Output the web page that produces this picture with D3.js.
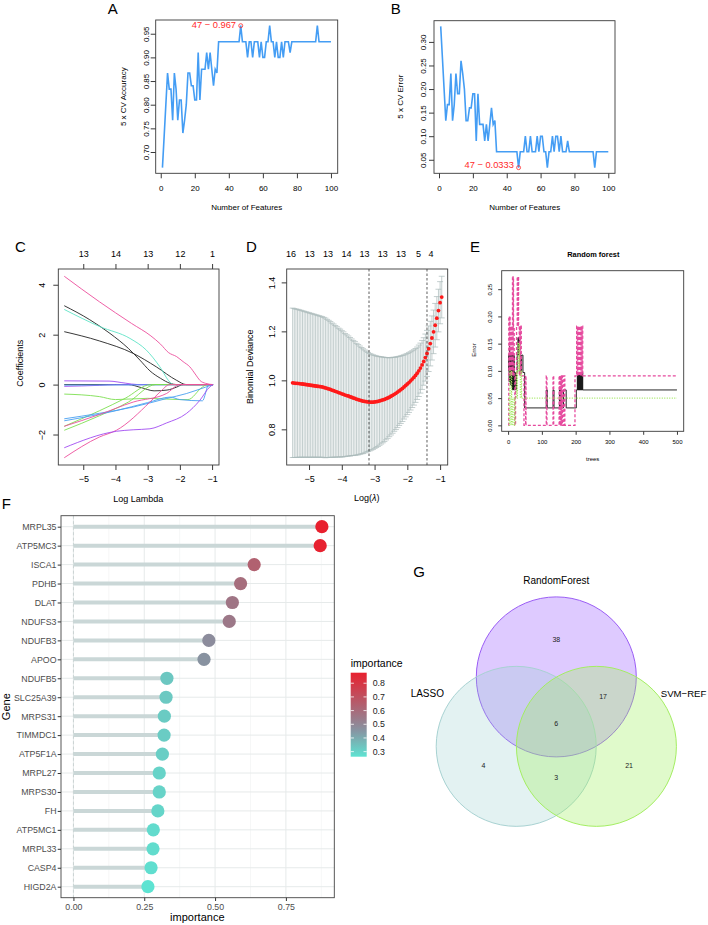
<!DOCTYPE html>
<html>
<head>
<meta charset="utf-8">
<title>Feature selection panels</title>
<script src="https://cdn.jsdelivr.net/npm/d3@7"></script>
<style>
  body { margin: 0; background: #fff; }
  svg { display: block; }
</style>
</head>
<body>
<script>
// ---------------- data ----------------
var nFeatures = d3.range(1, 101);
var cvAccuracy = [
  0.667,0.733,0.800,0.867,0.833,0.833,0.767,0.867,0.833,0.767,
  0.810,0.810,0.740,0.767,0.800,0.867,0.867,0.840,0.840,0.810,
  0.810,0.910,0.810,0.875,0.875,0.875,0.910,0.875,0.910,0.875,
  0.840,0.875,0.867,0.933,0.933,0.933,0.933,0.933,0.933,0.933,
  0.933,0.933,0.933,0.933,0.933,0.933,0.967,0.933,0.933,0.933,
  0.900,0.933,0.933,0.900,0.933,0.933,0.933,0.900,0.933,0.900,
  0.900,0.933,0.933,0.967,0.933,0.933,0.900,0.933,0.900,0.900,
  0.933,0.900,0.933,0.933,0.933,0.910,0.933,0.933,0.933,0.933,
  0.933,0.933,0.933,0.933,0.933,0.933,0.933,0.933,0.933,0.933,
  0.933,0.967,0.933,0.933,0.933,0.933,0.933,0.933,0.933,0.933
];
var cvError = [
  0.333,0.267,0.200,0.133,0.167,0.167,0.233,0.133,0.167,0.233,
  0.190,0.190,0.260,0.233,0.200,0.133,0.133,0.160,0.160,0.190,
  0.190,0.090,0.190,0.125,0.125,0.125,0.090,0.125,0.090,0.125,
  0.160,0.125,0.133,0.067,0.067,0.067,0.067,0.067,0.067,0.067,
  0.067,0.067,0.067,0.067,0.067,0.067,0.0333,0.067,0.067,0.067,
  0.100,0.067,0.067,0.100,0.067,0.067,0.067,0.100,0.067,0.100,
  0.100,0.067,0.067,0.0333,0.067,0.067,0.100,0.067,0.100,0.100,
  0.067,0.100,0.067,0.067,0.067,0.090,0.067,0.067,0.067,0.067,
  0.067,0.067,0.067,0.067,0.067,0.067,0.067,0.067,0.067,0.067,
  0.067,0.0333,0.067,0.067,0.067,0.067,0.067,0.067,0.067,0.067
];

// LASSO coefficient paths: [log lambda, coefficient]
var coefColors = ['#ec4e9c','#222222','#222222','#5fe3c6','#222222','#a24cf2','#a24cf2','#4aa0f0',
                  '#7ddf50','#7ddf50','#7ddf50','#4aa0f0','#4aa0f0','#ec4e9c','#ec4e9c','#a24cf2'];
var coefPaths = [
  [[-5.59,4.34],[-4.5,3.32],[-3.5,2.45],[-2.9,1.95],[-2.6,1.62],[-2.35,1.28],[-2.1,1.12],[-1.9,0.92],[-1.69,0.71],[-1.5,0.38],[-1.38,0.17],[-1.2,0.05],[-0.97,0]],
  [[-5.59,3.16],[-4.8,2.6],[-4.17,2.05],[-3.6,1.45],[-3.24,0.98],[-2.93,0.55],[-2.6,0.25],[-2.3,0.05],[-2.1,0],[-0.97,0]],
  [[-5.59,2.12],[-4.5,1.75],[-3.45,1.25],[-2.73,0.71],[-2.1,0.17],[-1.8,0],[-0.97,0]],
  [[-5.59,3.01],[-4.48,2.32],[-3.55,1.85],[-3.04,1.38],[-2.62,0.71],[-2.31,0.1],[-2.2,0],[-0.97,0]],
  [[-5.59,0],[-3.6,0],[-3.2,-0.12],[-2.8,-0.25],[-2.4,-0.22],[-2.1,-0.1],[-1.9,0],[-0.97,0]],
  [[-5.59,0.15],[-4.2,0.14],[-3.7,0.06],[-3.3,0],[-0.97,0]],
  [[-5.59,-0.07],[-4.5,-0.03],[-4.0,0],[-0.97,0]],
  [[-5.59,-0.02],[-3.0,-0.01],[-0.97,0]],
  [[-5.59,-0.38],[-4.5,-0.48],[-4.0,-0.6],[-3.0,-0.55],[-2.0,-0.6],[-1.75,-0.6],[-1.3,-0.1],[-1.15,0],[-0.97,0]],
  [[-5.59,-1.67],[-4.5,-1.05],[-3.7,-0.55],[-2.9,0],[-0.97,0]],
  [[-5.59,-1.83],[-4.5,-1.25],[-3.6,-0.7],[-2.75,0],[-0.97,0]],
  [[-5.59,-1.37],[-4.5,-1.15],[-3.45,-0.9],[-2.42,-0.56],[-1.8,-0.36],[-1.2,-0.1],[-0.97,0]],
  [[-5.59,-1.45],[-4.0,-1.05],[-3.0,-0.72],[-2.3,-0.5],[-2.0,-0.6],[-1.3,-0.65],[-1.1,0],[-0.97,0]],
  [[-5.59,-2.93],[-4.5,-2.1],[-3.97,-1.83],[-2.93,-0.7],[-2.62,-0.3],[-2.31,0],[-0.97,0]],
  [[-5.59,-1.67],[-4.5,-1.2],[-3.45,-0.7],[-2.42,-0.36],[-2.0,0],[-0.97,0]],
  [[-5.59,-2.53],[-3.97,-1.87],[-3.45,-1.81],[-2.93,-1.77],[-2.42,-1.54],[-1.8,-1.16],[-1.38,-0.63],[-1.07,-0.09],[-0.97,0]]
];
var coefTopAt = [-5, -4, -3, -2, -1];
var coefTopDf = [13, 14, 13, 12, 1];

// cross-validated binomial deviance
var lamD = [
  -5.50,-5.45,-5.40,-5.35,-5.30,-5.25,-5.20,-5.15,-5.10,-5.05,
  -5.00,-4.95,-4.90,-4.85,-4.80,-4.75,-4.70,-4.65,-4.60,-4.55,
  -4.50,-4.45,-4.40,-4.35,-4.30,-4.25,-4.20,-4.15,-4.10,-4.05,
  -4.00,-3.95,-3.90,-3.85,-3.80,-3.75,-3.70,-3.65,-3.60,-3.55,
  -3.50,-3.45,-3.40,-3.35,-3.30,-3.25,-3.20,-3.15,-3.10,-3.05,
  -3.00,-2.95,-2.90,-2.85,-2.80,-2.75,-2.70,-2.65,-2.60,-2.55,
  -2.50,-2.45,-2.40,-2.35,-2.30,-2.25,-2.20,-2.15,-2.10,-2.05,
  -2.00,-1.95,-1.90,-1.85,-1.80,-1.75,-1.70,-1.65,-1.60,-1.55,
  -1.50,-1.45,-1.40,-1.35,-1.30,-1.25,-1.20,-1.15,-1.10,-1.05,
  -1.00,-0.95
];
var devMean = [
  0.990,0.989,0.988,0.988,0.987,0.986,0.985,0.984,0.983,0.982,
  0.981,0.980,0.979,0.978,0.977,0.976,0.975,0.974,0.973,0.971,
  0.969,0.967,0.965,0.963,0.960,0.958,0.955,0.953,0.950,0.948,
  0.945,0.943,0.940,0.938,0.936,0.933,0.931,0.928,0.926,0.923,
  0.921,0.919,0.917,0.915,0.914,0.913,0.912,0.911,0.911,0.911,
  0.912,0.913,0.914,0.916,0.918,0.920,0.922,0.925,0.928,0.931,
  0.935,0.939,0.943,0.947,0.952,0.957,0.962,0.967,0.973,0.979,
  0.985,0.991,0.998,1.005,1.012,1.020,1.029,1.039,1.050,1.063,
  1.077,1.093,1.110,1.129,1.150,1.173,1.198,1.225,1.254,1.285,
  1.317,1.340
];
var devSE = [
  0.305,0.304,0.303,0.302,0.301,0.300,0.299,0.298,0.297,0.296,
  0.295,0.294,0.293,0.292,0.291,0.290,0.289,0.288,0.287,0.286,
  0.285,0.282,0.280,0.277,0.274,0.272,0.269,0.266,0.263,0.261,
  0.258,0.255,0.251,0.248,0.245,0.242,0.238,0.235,0.232,0.228,
  0.225,0.221,0.217,0.214,0.210,0.206,0.202,0.199,0.196,0.193,
  0.190,0.187,0.184,0.181,0.178,0.175,0.172,0.168,0.165,0.161,
  0.158,0.155,0.151,0.148,0.145,0.141,0.138,0.135,0.131,0.128,
  0.125,0.122,0.119,0.116,0.113,0.110,0.107,0.105,0.102,0.100,
  0.097,0.096,0.094,0.093,0.091,0.090,0.089,0.089,0.088,0.087,
  0.086,0.085
];
var devTopAt = [-5.55,-4.98,-4.42,-3.86,-3.31,-2.75,-2.19,-1.66,-1.28];
var devTopDf = [16, 13, 13, 14, 13, 13, 13, 5, 4];
var lambdaMin = -3.17, lambda1se = -1.40;

// random forest error by number of trees (step change points: [tree, error])
var rfOOB = [[1,0.100],[2,0.130],[3,0.080],[4,0.145],[5,0.090],[6,0.120],[7,0.075],[8,0.130],[9,0.080],[10,0.110],
  [11,0.070],[12,0.129],[13,0.065],[14,0.097],[15,0.129],[16,0.065],[17,0.129],[18,0.097],[19,0.065],[21,0.097],
  [23,0.065],[25,0.097],[27,0.129],[29,0.161],[31,0.129],[32,0.161],[34,0.129],[35,0.097],[36,0.129],[38,0.097],
  [40,0.129],[44,0.097],[49,0.032],[113,0.065],[116,0.032],[133,0.065],[136,0.032],[152,0.065],[154,0.032],
  [156,0.065],[159,0.032],[164,0.065],[172,0.032],[202,0.065],[205,0.097],[206,0.065],[208,0.097],[209,0.065],
  [211,0.097],[212,0.065],[214,0.097],[215,0.065],[217,0.097],[218,0.065],[220,0.097],[221,0.065],[500,0.065]];
var rfClass1 = [[1,0],[2,0.2],[4,0.1],[5,0.2],[6,0.091],[8,0.182],[9,0.091],[11,0.182],[12,0.091],[13,0.273],
  [14,0.091],[15,0.273],[16,0.182],[18,0.091],[20,0],[22,0.091],[25,0.182],[27,0.273],[28,0.182],[30,0.273],
  [31,0.182],[33,0.091],[34,0.182],[36,0.091],[37,0.182],[39,0.091],[47,0],[52,0.091],[53,0],[113,0.091],
  [115,0],[133,0.091],[135,0],[151,0.091],[153,0],[155,0.091],[157,0],[159,0.091],[161,0],[165,0.091],[168,0],
  [198,0.091],[203,0.182],[205,0.091],[207,0.182],[209,0.091],[211,0.182],[213,0.091],[215,0.182],[217,0.091],
  [219,0.182],[221,0.091],[500,0.091]];
var rfClass0 = [[1,0.05],[3,0],[5,0.1],[6,0.05],[8,0],[10,0.1],[11,0.05],[13,0],[15,0.05],[19,0],[21,0.05],
  [24,0.1],[26,0.05],[28,0.1],[29,0.15],[31,0.1],[33,0.15],[34,0.1],[36,0.05],[38,0.1],[40,0.05],[500,0.05]];

// random forest gene importance
var genes = ['MRPL35','ATP5MC3','ISCA1','PDHB','DLAT','NDUFS3','NDUFB3','APOO','NDUFB5','SLC25A39',
             'MRPS31','TIMMDC1','ATP5F1A','MRPL27','MRPS30','FH','ATP5MC1','MRPL33','CASP4','HIGD2A'];
var importance = [0.877,0.871,0.638,0.590,0.561,0.550,0.478,0.461,0.330,0.327,
                  0.321,0.320,0.314,0.303,0.303,0.298,0.282,0.281,0.274,0.263];
var impTicks = [0, 0.25, 0.5, 0.75];
var impLegendTicks = [0.3, 0.4, 0.5, 0.6, 0.7, 0.8];

// venn
var vennSets = ['RandomForest', 'LASSO', 'SVM\u2212REF'];
var vennRegions = ['RF', 'LASSO', 'SVM', 'RF&SVM', 'LASSO&SVM', 'RF&LASSO', 'ALL'];
var vennCounts = [38, 4, 21, 17, 3, 0, 6];

// ---------------- helpers ----------------
var FONT = '"Liberation Sans", Arial, Helvetica, sans-serif';
var svg = d3.select('body').append('svg')
  .attr('width', 708).attr('height', 925)
  .attr('font-family', FONT);
svg.append('rect').attr('width', 708).attr('height', 925).attr('fill', '#fff');

function txt(g, s, x, y, fs, o) {
  o = o || {};
  var t = g.append('text')
    .attr('x', x).attr('y', y)
    .attr('font-size', fs)
    .attr('dy', o.dy == null ? '0.35em' : o.dy)
    .attr('text-anchor', o.anchor || 'middle')
    .attr('fill', o.fill || '#000')
    .text(s);
  if (o.rot) t.attr('transform', 'rotate(' + o.rot + ',' + x + ',' + y + ')');
  if (o.weight) t.attr('font-weight', o.weight);
  return t;
}

// R extends axis ranges by 4% on both sides
function rExt(e) {
  var r = e[1] - e[0];
  return [e[0] - 0.04 * r, e[1] + 0.04 * r];
}

function rBox(g, x, y) {
  g.append('rect')
    .attr('x', x.range()[0]).attr('y', y.range()[1])
    .attr('width', x.range()[1] - x.range()[0])
    .attr('height', y.range()[0] - y.range()[1])
    .attr('fill', 'none').attr('stroke', '#3a3a3a').attr('stroke-width', 0.9);
}

function rAxisBottom(g, x, y, ticks, fmt, tl, off, fs) {
  var ax = g.append('g')
    .attr('transform', 'translate(0,' + y.range()[0] + ')')
    .call(d3.axisBottom(x).tickValues(ticks).tickFormat(fmt).tickSize(tl));
  ax.select('.domain').remove();
  ax.attr('font-family', FONT).attr('font-size', fs).attr('color', '#3a3a3a');
  ax.selectAll('text').attr('y', off).attr('dy', '0.35em').attr('fill', '#000');
  return ax;
}

function rAxisTop(g, x, y, ticks, labels, tl, off, fs) {
  var ax = g.append('g')
    .attr('transform', 'translate(0,' + y.range()[1] + ')')
    .call(d3.axisTop(x).tickValues(ticks).tickFormat(function (d, i) { return labels[i]; }).tickSize(tl));
  ax.select('.domain').remove();
  ax.attr('font-family', FONT).attr('font-size', fs).attr('color', '#3a3a3a');
  ax.selectAll('text').attr('y', -off).attr('dy', '0.35em').attr('fill', '#000');
  return ax;
}

function rAxisLeft(g, x, y, ticks, fmt, tl, off, fs) {
  var ax = g.append('g')
    .attr('transform', 'translate(' + x.range()[0] + ',0)')
    .call(d3.axisLeft(y).tickValues(ticks).tickFormat(fmt).tickSize(tl));
  ax.select('.domain').remove();
  ax.attr('font-family', FONT).attr('font-size', fs).attr('color', '#3a3a3a');
  ax.selectAll('text')
    .attr('transform', 'rotate(-90)')
    .attr('x', 0).attr('y', -off).attr('dy', '0.35em')
    .attr('text-anchor', 'middle').attr('fill', '#000');
  return ax;
}

function letter(s, x, y) {
  txt(svg, s, x, y, 15, { anchor: 'start', dy: 0 });
}

// ---------------- A: SVM-RFE accuracy ----------------
var gA = svg.append('g');
var xA = d3.scaleLinear().domain(rExt(d3.extent(nFeatures))).range([155.7, 337.7]);
var yA = d3.scaleLinear().domain(rExt(d3.extent(cvAccuracy))).range([173.3, 20]);
rBox(gA, xA, yA);
rAxisBottom(gA, xA, yA, [0, 20, 40, 60, 80, 100], d3.format('d'), 5, 14.7, 8);
rAxisLeft(gA, xA, yA, [0.70, 0.75, 0.80, 0.85, 0.90, 0.95], d3.format('.2f'), 5, 9.5, 8);
gA.append('path').datum(cvAccuracy)
  .attr('d', d3.line().x(function (d, i) { return xA(nFeatures[i]); }).y(function (d) { return yA(d); }))
  .attr('fill', 'none').attr('stroke', '#449df4').attr('stroke-width', 1.6);
var bestA = d3.maxIndex(cvAccuracy);
gA.append('circle').attr('cx', xA(nFeatures[bestA])).attr('cy', yA(cvAccuracy[bestA])).attr('r', 2)
  .attr('fill', 'none').attr('stroke', '#ff2a2a').attr('stroke-width', 0.8);
txt(gA, nFeatures[bestA] + ' \u2212 ' + d3.format('.3~g')(cvAccuracy[bestA]),
  xA(nFeatures[bestA]) - 4.7, yA(cvAccuracy[bestA]), 9.3, { anchor: 'end', fill: '#ff2a2a', dy: '0.3em' });
txt(gA, 'Number of Features', 246.7, 207, 8);
txt(gA, '5 x CV Accuracy', 122.7, 96.7, 8, { rot: -90 });
letter('A', 107.7, 13.5);

// ---------------- B: SVM-RFE error ----------------
var gB = svg.append('g');
var xB = d3.scaleLinear().domain(rExt(d3.extent(nFeatures))).range([434, 615]);
var yB = d3.scaleLinear().domain(rExt(d3.extent(cvError))).range([173.3, 20.7]);
rBox(gB, xB, yB);
rAxisBottom(gB, xB, yB, [0, 20, 40, 60, 80, 100], d3.format('d'), 5, 14.7, 8);
rAxisLeft(gB, xB, yB, [0.05, 0.10, 0.15, 0.20, 0.25, 0.30], d3.format('.2f'), 5, 11, 8);
gB.append('path').datum(cvError)
  .attr('d', d3.line().x(function (d, i) { return xB(nFeatures[i]); }).y(function (d) { return yB(d); }))
  .attr('fill', 'none').attr('stroke', '#449df4').attr('stroke-width', 1.6);
var bestB = d3.minIndex(cvError);
gB.append('circle').attr('cx', xB(nFeatures[bestB])).attr('cy', yB(cvError[bestB])).attr('r', 2)
  .attr('fill', 'none').attr('stroke', '#ff2a2a').attr('stroke-width', 0.8);
txt(gB, nFeatures[bestB] + ' \u2212 ' + d3.format('.3~g')(cvError[bestB]),
  xB(nFeatures[bestB]) - 4.7, yB(cvError[bestB]) - 2, 9.3, { anchor: 'end', fill: '#ff2a2a', dy: '0.3em' });
txt(gB, 'Number of Features', 524.7, 207, 8);
txt(gB, '5 x CV Error', 400, 96.7, 8, { rot: -90 });
letter('B', 390.7, 13.5);

// ---------------- C: LASSO coefficient paths ----------------
var gC = svg.append('g');
var allLam = [], allCoef = [];
coefPaths.forEach(function (p) { p.forEach(function (d) { allLam.push(d[0]); allCoef.push(d[1]); }); });
var xC = d3.scaleLinear().domain(rExt(d3.extent(allLam))).range([58.3, 219]);
var yC = d3.scaleLinear().domain(rExt(d3.extent(allCoef))).range([465, 269]);
var lineC = d3.line().x(function (d) { return xC(d[0]); }).y(function (d) { return yC(d[1]); })
  .curve(d3.curveMonotoneX);
gC.append('g').selectAll('path').data(coefPaths).enter().append('path')
  .attr('d', lineC)
  .attr('fill', 'none')
  .attr('stroke', function (d, i) { return coefColors[i]; })
  .attr('stroke-width', 0.9);
rBox(gC, xC, yC);
rAxisBottom(gC, xC, yC, [-5, -4, -3, -2, -1], d3.format('d'), 5, 14.3, 9);
rAxisTop(gC, xC, yC, coefTopAt, coefTopDf, 5, 14.7, 9);
rAxisLeft(gC, xC, yC, [-2, 0, 2, 4], d3.format('d'), 5, 16.6, 9);
txt(gC, 'Log Lambda', 138.3, 499, 9);
txt(gC, 'Coefficients', 20, 363.3, 9, { rot: -90 });
letter('C', 15, 251.7);

// ---------------- D: cross-validation deviance ----------------
var gD = svg.append('g');
var devLo = devMean.map(function (m, i) { return m - devSE[i]; });
var devHi = devMean.map(function (m, i) { return m + devSE[i]; });
var xD = d3.scaleLinear().domain(rExt(d3.extent(lamD))).range([286.7, 447.7]);
var yD = d3.scaleLinear().domain(rExt([d3.min(devLo), d3.max(devHi)])).range([465, 269]);
var barW = (d3.max(lamD) - d3.min(lamD)) * 0.02;
var eb = gD.append('g').attr('stroke', '#a9b9b9').attr('stroke-width', 0.7);
lamD.forEach(function (l, i) {
  eb.append('line').attr('x1', xD(l)).attr('x2', xD(l)).attr('y1', yD(devLo[i])).attr('y2', yD(devHi[i]));
  eb.append('line').attr('x1', xD(l - barW)).attr('x2', xD(l + barW)).attr('y1', yD(devHi[i])).attr('y2', yD(devHi[i]));
  eb.append('line').attr('x1', xD(l - barW)).attr('x2', xD(l + barW)).attr('y1', yD(devLo[i])).attr('y2', yD(devLo[i]));
});
gD.selectAll('circle.dev').data(devMean).enter().append('circle')
  .attr('cx', function (d, i) { return xD(lamD[i]); })
  .attr('cy', function (d) { return yD(d); })
  .attr('r', 1.9).attr('fill', '#ff1a1a');
[lambdaMin, lambda1se].forEach(function (v) {
  gD.append('line').attr('x1', xD(v)).attr('x2', xD(v)).attr('y1', yD.range()[0]).attr('y2', yD.range()[1])
    .attr('stroke', '#333').attr('stroke-width', 0.8).attr('stroke-dasharray', '2.5,2');
});
rBox(gD, xD, yD);
rAxisBottom(gD, xD, yD, [-5, -4, -3, -2, -1], d3.format('d'), 5, 14.3, 9);
var topD = gD.append('g');
devTopAt.forEach(function (v, i) { txt(topD, devTopDf[i], xD(v), 254.3, 9); });
rAxisLeft(gD, xD, yD, [0.8, 1.0, 1.2, 1.4], d3.format('.1f'), 5, 15, 9);
var ll = gD.append('text').attr('x', 366.7).attr('y', 498).attr('dy', '0.35em')
  .attr('text-anchor', 'middle').attr('font-size', 9);
ll.append('tspan').text('Log(');
ll.append('tspan').attr('font-style', 'italic').text('\u03bb');
ll.append('tspan').text(')');
txt(gD, 'Binomial Deviance', 250, 366.7, 9, { rot: -90 });
letter('D', 246, 251.7);

// ---------------- E: random forest error ----------------
var gE = svg.append('g');
var xE = d3.scaleLinear().domain(rExt([1, 500])).range([501.7, 683.7]);
var yE = d3.scaleLinear().domain(rExt([0, d3.max(rfClass1, function (d) { return d[1]; })])).range([431.3, 270.7]);
var lineE = d3.line().x(function (d) { return xE(d[0]); }).y(function (d) { return yE(d[1]); })
  .curve(d3.curveStepAfter);
gE.append('path').datum(rfOOB).attr('d', lineE).attr('fill', 'none')
  .attr('stroke', '#111').attr('stroke-width', 0.9);
gE.append('path').datum(rfClass1).attr('d', lineE).attr('fill', 'none')
  .attr('stroke', '#e64a9e').attr('stroke-width', 1.3).attr('stroke-dasharray', '3,2');
gE.append('path').datum(rfClass0).attr('d', lineE).attr('fill', 'none')
  .attr('stroke', '#9fe85a').attr('stroke-width', 1.1).attr('stroke-dasharray', '1,1.5');
rBox(gE, xE, yE);
rAxisBottom(gE, xE, yE, [0, 100, 200, 300, 400, 500], d3.format('d'), 3.5, 11, 6);
rAxisLeft(gE, xE, yE, [0, 0.05, 0.10, 0.15, 0.20, 0.25], d3.format('.2f'), 3.5, 11.7, 6);
txt(gE, 'Random forest', 593.3, 254.3, 7.4, { weight: 'bold' });
txt(gE, 'trees', 592.7, 459, 6);
txt(gE, 'Error', 474, 350, 6, { rot: -90 });
letter('E', 470, 251.7);

// ---------------- F: lollipop importance ----------------
var gF = svg.append('g');
var impMax = d3.max(importance), impMin = d3.min(importance);
var xF = d3.scaleLinear().domain([0 - 0.05 * impMax, impMax * 1.05]).range([61, 334.3]);
var yF = d3.scalePoint().domain(genes).range([526.7, 886.7]);
var colF = d3.scaleLinear().domain([impMin, 0.47, impMax])
  .range(['#5ee3d2', '#8a8e9e', '#e8202e']).interpolate(d3.interpolateRgb);
var fTop = 515.7, fBot = 897.7;
// grid
var minorF = [0.125, 0.375, 0.625, 0.875];
gF.selectAll('line.minor').data(minorF).enter().append('line')
  .attr('x1', xF).attr('x2', xF).attr('y1', fTop).attr('y2', fBot)
  .attr('stroke', '#f0f2f2').attr('stroke-width', 0.6);
gF.selectAll('line.major').data(impTicks).enter().append('line')
  .attr('x1', xF).attr('x2', xF).attr('y1', fTop).attr('y2', fBot)
  .attr('stroke', '#e6eaea').attr('stroke-width', 1);
gF.selectAll('line.hgrid').data(genes).enter().append('line')
  .attr('x1', 61).attr('x2', 334.3).attr('y1', yF).attr('y2', yF)
  .attr('stroke', '#e6eaea').attr('stroke-width', 1);
gF.append('line').attr('x1', xF(0)).attr('x2', xF(0)).attr('y1', fTop).attr('y2', fBot)
  .attr('stroke', '#c2cbcb').attr('stroke-width', 0.8).attr('stroke-dasharray', '3,2.5');
gF.selectAll('line.stem').data(importance).enter().append('line')
  .attr('x1', xF(0)).attr('x2', function (d) { return xF(d); })
  .attr('y1', function (d, i) { return yF(genes[i]); })
  .attr('y2', function (d, i) { return yF(genes[i]); })
  .attr('stroke', '#cad7d7').attr('stroke-width', 4);
gF.selectAll('circle.dot').data(importance).enter().append('circle')
  .attr('cx', function (d) { return xF(d); })
  .attr('cy', function (d, i) { return yF(genes[i]); })
  .attr('r', 6.6)
  .attr('fill', function (d) { return colF(d); });
gF.append('rect').attr('x', 61).attr('y', fTop).attr('width', 334.3 - 61).attr('height', fBot - fTop)
  .attr('fill', 'none').attr('stroke', '#444').attr('stroke-width', 0.9);
var axFy = gF.append('g').attr('transform', 'translate(61,0)')
  .call(d3.axisLeft(yF).tickSize(3.3).tickPadding(1.2));
axFy.select('.domain').remove();
axFy.attr('font-family', FONT).attr('font-size', 8.8).attr('color', '#333');
axFy.selectAll('text').attr('fill', '#4d4d4d');
var axFx = gF.append('g').attr('transform', 'translate(0,' + fBot + ')')
  .call(d3.axisBottom(xF).tickValues(impTicks).tickFormat(d3.format('.2f')).tickSize(3.3));
axFx.select('.domain').remove();
axFx.attr('font-family', FONT).attr('font-size', 8.8).attr('color', '#333');
axFx.selectAll('text').attr('y', 9).attr('dy', '0.35em').attr('fill', '#4d4d4d');
txt(gF, 'importance', 197.3, 917.5, 11);
txt(gF, 'Gene', 6.5, 706.7, 11, { rot: -90 });
letter('F', 1.7, 509.3);

// legend
var legY = d3.scaleLinear().domain([impMin, impMax]).range([756.7, 672.7]);
var grad = svg.append('defs').append('linearGradient').attr('id', 'impGrad')
  .attr('x1', 0).attr('y1', 1).attr('x2', 0).attr('y2', 0);
d3.range(0, 1.0001, 0.1).forEach(function (t) {
  grad.append('stop').attr('offset', t).attr('stop-color', colF(impMin + t * (impMax - impMin)));
});
var gL = svg.append('g');
txt(gL, 'importance', 350.7, 663.3, 10.5, { anchor: 'start' });
gL.append('rect').attr('x', 350.7).attr('y', legY(impMax)).attr('width', 16)
  .attr('height', legY(impMin) - legY(impMax)).attr('fill', 'url(#impGrad)');
impLegendTicks.forEach(function (v) {
  gL.append('line').attr('x1', 350.7).attr('x2', 353.9).attr('y1', legY(v)).attr('y2', legY(v))
    .attr('stroke', '#fff').attr('stroke-width', 0.8);
  gL.append('line').attr('x1', 363.5).attr('x2', 366.7).attr('y1', legY(v)).attr('y2', legY(v))
    .attr('stroke', '#fff').attr('stroke-width', 0.8);
  txt(gL, d3.format('.1f')(v), 372.7, legY(v), 8.8, { anchor: 'start', fill: '#222' });
});

// ---------------- G: venn ----------------
var gG = svg.append('g');
var vc = { x: 556.3, y: 723.2 }, vR = 80, vD = 46.3;
var setAngle = [90, 210, 330];
var setFill = ['#a066ff', '#8ecccc', '#a0f060'];
var setOpacity = [0.35, 0.25, 0.33];
var setStroke = ['#9a5cf5', '#a8d2d2', '#a4ee62'];
function polar(a, r) {
  var t = a * Math.PI / 180;
  return [vc.x + r * Math.cos(t), vc.y - r * Math.sin(t)];
}
vennSets.forEach(function (s, i) {
  var p = polar(setAngle[i], vD);
  gG.append('circle').attr('cx', p[0]).attr('cy', p[1]).attr('r', vR)
    .attr('fill', setFill[i]).attr('fill-opacity', setOpacity[i])
    .attr('stroke', setStroke[i]).attr('stroke-width', 1);
});
var regionAngle = [90, 210, 330, 30, 270, 150, 0];
var regionDist = [84, 84, 84, 54, 54, 54, 0];
vennCounts.forEach(function (c, i) {
  if (c === 0) return;
  var p = polar(regionAngle[i], regionDist[i]);
  txt(gG, c, p[0], p[1], 7, { fill: '#222' });
});
txt(gG, vennSets[0], vc.x, vc.y - 142.5, 10);
txt(gG, vennSets[1], vc.x - 112.3, vc.y - 29.9, 10, { anchor: 'end' });
txt(gG, vennSets[2], vc.x + 104.5, vc.y - 29.9, 9.6, { anchor: 'start' });
letter('G', 413.3, 576.7);
</script>
</body>
</html>
